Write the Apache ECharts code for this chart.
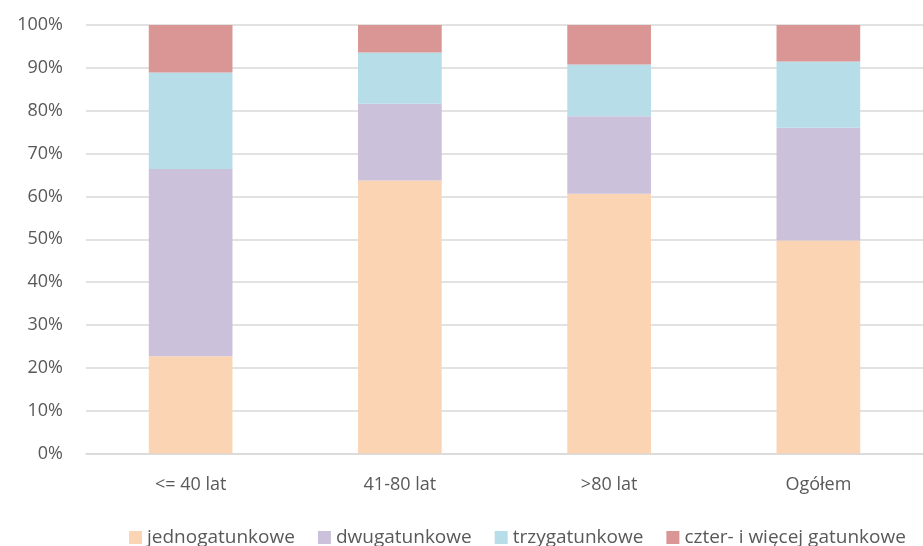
<!DOCTYPE html>
<html><head><meta charset="utf-8">
<script src="https://cdn.jsdelivr.net/npm/echarts@6/dist/echarts.min.js"></script>
<style>html,body{margin:0;padding:0;background:#fff}#c{width:923px;height:546px}</style>
</head><body><div id="c"></div>
<script>
const categories = ['<= 40 lat', '41-80 lat', '>80 lat', 'Ogółem'];
const jednogatunkowe = [22.7, 63.7, 60.6, 49.7];
const dwugatunkowe = [43.7, 17.9, 18.1, 26.3];
const trzygatunkowe = [22.5, 12.0, 12.1, 15.5];
const czterWiecej = [11.1, 6.4, 9.2, 8.5];
const seriesNames = ['jednogatunkowe', 'dwugatunkowe', 'trzygatunkowe', 'czter- i więcej gatunkowe'];
const colors = ['#FBD4B4', '#CCC1DA', '#B7DDE8', '#D99694'];
const yTicks = [0, 10, 20, 30, 40, 50, 60, 70, 80, 90, 100];

const font = 'Open Sans';
const chart = echarts.init(document.getElementById('c'), null, {renderer: 'canvas'});
const data = [jednogatunkowe, dwugatunkowe, trzygatunkowe, czterWiecej];
chart.setOption({
  animation: false,
  color: colors,
  grid: {left: 86, top: 25, width: 850, height: 428.5, containLabel: false},
  legend: {
    bottom: -6, left: 124, itemWidth: 13, itemHeight: 13, itemGap: 23, icon: 'rect',
    textStyle: {fontFamily: font, fontSize: 19, color: '#595959'},
    data: seriesNames
  },
  xAxis: {
    type: 'category', data: categories,
    axisLine: {show: true, lineStyle: {color: '#d9d9d9', width: 1.5}},
    axisTick: {show: false},
    axisLabel: {fontFamily: font, fontSize: 18, color: '#595959', margin: 22}
  },
  yAxis: {
    type: 'value', min: yTicks[0], max: yTicks[yTicks.length - 1], interval: 10,
    axisLine: {show: false}, axisTick: {show: false},
    splitLine: {lineStyle: {color: '#d9d9d9', width: 1.5}},
    axisLabel: {fontFamily: font, fontSize: 18, color: '#595959', margin: 23, formatter: v => v + '%'}
  },
  series: seriesNames.map((n, i) => ({
    name: n, type: 'bar', stack: 'total', barWidth: '40%', data: data[i],
    itemStyle: {color: colors[i]}
  }))
});
</script></body></html>
